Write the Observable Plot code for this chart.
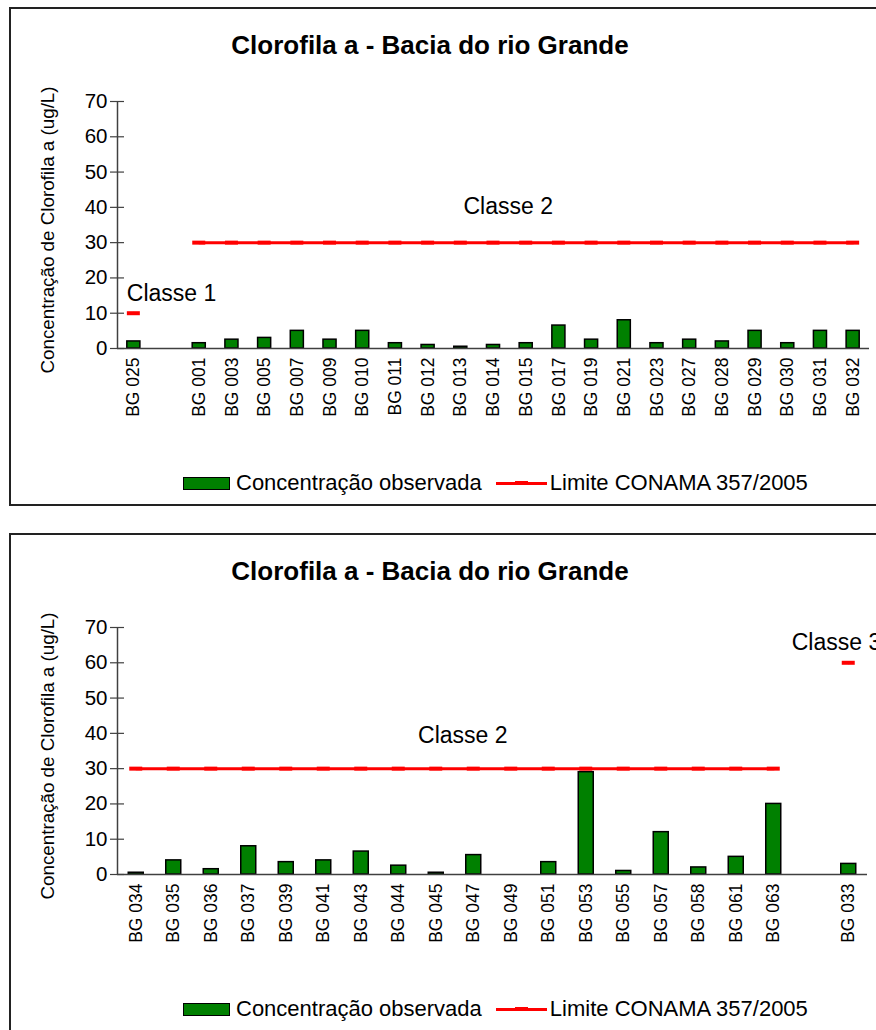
<!DOCTYPE html>
<html>
<head>
<meta charset="utf-8">
<script src="https://cdn.jsdelivr.net/npm/d3@7"></script>
<script src="https://cdn.jsdelivr.net/npm/@observablehq/plot@0.6"></script>
<style>
  html, body { margin: 0; padding: 0; background: #fff; width: 876px; height: 1030px; overflow: hidden; }
  body { position: relative; font-family: "Liberation Sans", Arial, sans-serif; color: #000; }
  .box { position: absolute; left: 9px; width: 900px; height: 495px; border: 2px solid #222; background: #fff; }
  .title { width: 838px; height: 72px; line-height: 72px; text-align: center; font-weight: bold; font-size: 26px; }
  .chart svg { display: block; }
  .legend { height: 36px; display: flex; align-items: center; padding-left: 172px; font-size: 22px; white-space: nowrap; }
  .swatch { width: 45px; height: 11px; background: #008000; border: 1.5px solid #000; margin-right: 6px; }
  .lline { position: relative; width: 51px; height: 3px; background: #ff0000; margin-left: 14px; margin-right: 3px; }
  .lline::after { content: ""; position: absolute; left: 19px; top: -1px; width: 13px; height: 4px; background: #ff0000; }
</style>
</head>
<body>
<div class="box" style="top:7px">
  <div class="title">Clorofila a - Bacia do rio Grande</div>
  <div class="chart" id="chart1"></div>
  <div class="legend"><span class="swatch"></span><span>Concentração observada</span><span class="lline"></span><span>Limite CONAMA 357/2005</span></div>
</div>
<div class="box" style="top:533px">
  <div class="title">Clorofila a - Bacia do rio Grande</div>
  <div class="chart" id="chart2"></div>
  <div class="legend"><span class="swatch"></span><span>Concentração observada</span><span class="lline"></span><span>Limite CONAMA 357/2005</span></div>
</div>
<script>
// ---------- data ----------
const yTicks = [0, 10, 20, 30, 40, 50, 60, 70];
const yLabel = "Concentração de Clorofila a (ug/L)";

// Chart 1 (" " is an empty category slot)
const cats1 = ["BG 025", " ", "BG 001", "BG 003", "BG 005", "BG 007", "BG 009", "BG 010", "BG 011", "BG 012", "BG 013", "BG 014", "BG 015", "BG 017", "BG 019", "BG 021", "BG 023", "BG 027", "BG 028", "BG 029", "BG 030", "BG 031", "BG 032"];
const values1 = [2, null, 1.5, 2.5, 3, 5, 2.5, 5, 1.5, 1, 0.5, 1, 1.5, 6.5, 2.5, 8, 1.5, 2.5, 2, 5, 1.5, 5, 5];
const limits1 = [10, null, 30, 30, 30, 30, 30, 30, 30, 30, 30, 30, 30, 30, 30, 30, 30, 30, 30, 30, 30, 30, 30];
const classes1 = ["Classe 1", null, "Classe 2", "Classe 2", "Classe 2", "Classe 2", "Classe 2", "Classe 2", "Classe 2", "Classe 2", "Classe 2", "Classe 2", "Classe 2", "Classe 2", "Classe 2", "Classe 2", "Classe 2", "Classe 2", "Classe 2", "Classe 2", "Classe 2", "Classe 2", "Classe 2"];
const labelText1 = ["Classe 1", "Classe 2"];
const labelCat1 = ["BG 025", "BG 015"];
const labelY1 = [15.5, 40.3];

// Chart 2
const cats2 = ["BG 034", "BG 035", "BG 036", "BG 037", "BG 039", "BG 041", "BG 043", "BG 044", "BG 045", "BG 047", "BG 049", "BG 051", "BG 053", "BG 055", "BG 057", "BG 058", "BG 061", "BG 063", " ", "BG 033"];
const values2 = [0.5, 4, 1.5, 8, 3.5, 4, 6.5, 2.5, 0.5, 5.5, null, 3.5, 29, 1, 12, 2, 5, 20, null, 3];
const limits2 = [30, 30, 30, 30, 30, 30, 30, 30, 30, 30, 30, 30, 30, 30, 30, 30, 30, 30, null, 60];
const classes2 = ["Classe 2", "Classe 2", "Classe 2", "Classe 2", "Classe 2", "Classe 2", "Classe 2", "Classe 2", "Classe 2", "Classe 2", "Classe 2", "Classe 2", "Classe 2", "Classe 2", "Classe 2", "Classe 2", "Classe 2", "Classe 2", null, "Classe 3"];
const labelText2 = ["Classe 2", "Classe 3"];
const labelCat2 = ["BG 047", "BG 033"];
const labelY2 = [39.3, 65.7];

// ---------- drawing ----------
const FONT = '"Liberation Sans", Arial, sans-serif';
const AXIS = "#404040";

function chart({cats, values, limits, classes, labelText, labelCat, labelY, labelOpts, marginRight}) {
  const W = 865, H = 384, mL = 106, mT = 20, mB = 117;
  const plotW = W - mL - marginRight;
  const step = plotW / cats.length;
  const rows = cats.map((c, i) => ({cat: c, value: values[i], limit: limits[i], classe: classes[i]}));
  const bars = rows.filter(d => d.value != null);
  const lim = rows.filter(d => d.limit != null);
  const labels = labelText.map((t, i) => ({text: t, cat: labelCat[i], y: labelY[i]}));
  return Plot.plot({
    width: W, height: H,
    marginLeft: mL, marginRight, marginTop: mT, marginBottom: mB,
    style: {fontFamily: FONT, background: "transparent", overflow: "visible", color: "#000"},
    x: {domain: cats, padding: 0, round: false, axis: null},
    y: {domain: [0, 70], axis: null},
    marks: [
      Plot.barY(bars, {x: "cat", y: "value", fill: "#008000", stroke: "#000", strokeWidth: 1.5, insetLeft: step * 0.3, insetRight: step * 0.3}),
      Plot.lineY(lim, {x: "cat", y: "limit", z: "classe", stroke: "#ff0000", strokeWidth: 3}),
      Plot.tickY(lim, {x: "cat", y: "limit", stroke: "#ff0000", strokeWidth: 4, insetLeft: (step - 13) / 2, insetRight: (step - 13) / 2}),
      Plot.ruleY([0], {stroke: AXIS, strokeWidth: 1.5}),
      Plot.ruleX([cats[0]], {y1: 0, y2: 70, dx: -step / 2, stroke: AXIS, strokeWidth: 1.5}),
      Plot.tickY(yTicks, {y: d => d, insetRight: plotW - 14, dx: -7, stroke: AXIS, strokeWidth: 1.2}),
      Plot.axisY({ticks: yTicks, tickSize: 0, tickPadding: 10, fontSize: 20.5, label: null, tickFormat: d => String(d)}),
      Plot.axisX({tickSize: 0, tickRotate: -90, tickPadding: 9, fontSize: 17.5, label: null, tickFormat: d => d.trim() === "" ? "" : d}),
      Plot.text([yLabel], {text: d => d, frameAnchor: "left", textAnchor: "middle", lineAnchor: "middle", rotate: -90, dx: -70, dy: 5, fontSize: 18.8}),
      ...labels.map((l, i) => Plot.text([l], {x: "cat", y: "y", text: "text", fontSize: 23, ...labelOpts[i]}))
    ]
  });
}

document.getElementById("chart1").append(chart({
  cats: cats1, values: values1, limits: limits1, classes: classes1,
  labelText: labelText1, labelCat: labelCat1, labelY: labelY1,
  labelOpts: [{textAnchor: "start", dx: -7}, {dx: -18}],
  marginRight: 7
}));
document.getElementById("chart2").append(chart({
  cats: cats2, values: values2, limits: limits2, classes: classes2,
  labelText: labelText2, labelCat: labelCat2, labelY: labelY2,
  labelOpts: [{dx: -11}, {textAnchor: "start", dx: -57}],
  marginRight: 9
}));
</script>
</body>
</html>
